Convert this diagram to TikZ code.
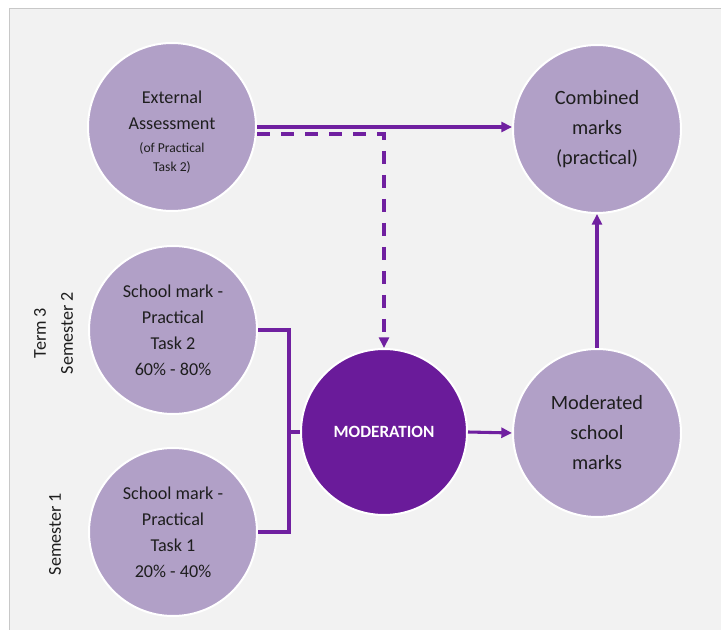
\documentclass[tikz,border=0pt]{standalone}
\usepackage{fontspec}
\setmainfont{Carlito}
\usetikzlibrary{arrows.meta}
\definecolor{lilac}{RGB}{177,160,199}
\definecolor{deeppurple}{RGB}{106,27,154}
\definecolor{linepurple}{RGB}{112,32,160}
\definecolor{panelgray}{RGB}{242,242,242}
\definecolor{framegray}{RGB}{200,200,200}
\definecolor{inkgray}{RGB}{30,30,30}

\begin{document}
\begin{tikzpicture}[x=0.75pt,y=0.75pt,yscale=-1,xscale=1,
    bubble/.style={circle,fill=lilac,draw=white,line width=1.5pt,minimum size=126pt,inner sep=0pt,align=center,text=inkgray,font=\fontsize{13.6}{19.5}\selectfont},
    bigbubble/.style={bubble,font=\fontsize{15.2}{22.5}\selectfont},
    hubbubble/.style={bubble,fill=deeppurple,minimum size=124.5pt,text=white,font=\bfseries\fontsize{12.9}{15}\selectfont},
    flow/.style={draw=linepurple,line width=2.3pt},
    flowarrow/.style={flow,-{Triangle[length=8pt,width=7.5pt]}},
    sidelabel/.style={rotate=90,text=inkgray,font=\fontsize{13.6}{16}\selectfont}]
    \useasboundingbox (0,0) rectangle (721,630);
    
    %Shape: Rectangle [panel] 
    \fill [white] (0,0) rectangle (721,630);
    \fill [panelgray] (9,9) rectangle (721,630);
    \draw [framegray][line width=0.75pt] (9,630) -- (9,9) -- (721,9);
    
    %Shape: Circle [external] 
    \node [bubble] (ext) at (172,127) {\rule{0pt}{17.5pt}External\\Assessment\\[-2.25pt]{\fontsize{10.2}{14}\selectfont (of Practical}\\[-5.25pt]{\fontsize{10.2}{14}\selectfont Task 2)}};
    %Shape: Circle [combined] 
    \node [bigbubble] (comb) at (597,129) {Combined\\marks\\(practical)};
    %Shape: Circle [task two] 
    \node [bubble] (tasktwo) at (173,330) {School mark -\\Practical\\Task 2\\60\% - 80\%};
    %Shape: Circle [task one] 
    \node [bubble] (taskone) at (173,532) {School mark -\\Practical\\Task 1\\20\% - 40\%};
    %Shape: Circle [moderation] 
    \node [hubbubble] (mod) at (384,432) {MODERATION};
    %Shape: Circle [moderated] 
    \node [bigbubble] (modmarks) at (597,433) {Moderated\\school\\marks};
    
    %Straight Lines [external to combined] 
    \draw [flowarrow] (ext.east) -- (ext.east -| comb.west);
    %Straight Lines [external to moderation, dashed] 
    \draw [flowarrow][dash pattern=on 9.75pt off 8.25pt] ([yshift=5.25pt]ext.east) -| (mod.north);
    %Straight Lines [bracket] 
    \coordinate (join) at (289,432);
    \draw [flow] (tasktwo.east) -| (join) |- (taskone.east);
    \draw [flow] (join) -- (mod.west);
    %Straight Lines [moderation to moderated] 
    \draw [flowarrow] (mod.east) -- (modmarks.west);
    %Straight Lines [moderated to combined] 
    \draw [flowarrow] (modmarks.north) -- (comb.south);
    
    % Text Node
    \node [sidelabel] (term) at (40,333) {Term 3};
    % Text Node
    \node [sidelabel] (semtwo) at (67,333) {Semester 2};
    % Text Node
    \node [sidelabel] (semone) at (55,534) {Semester 1};

\end{tikzpicture}
\end{document}
